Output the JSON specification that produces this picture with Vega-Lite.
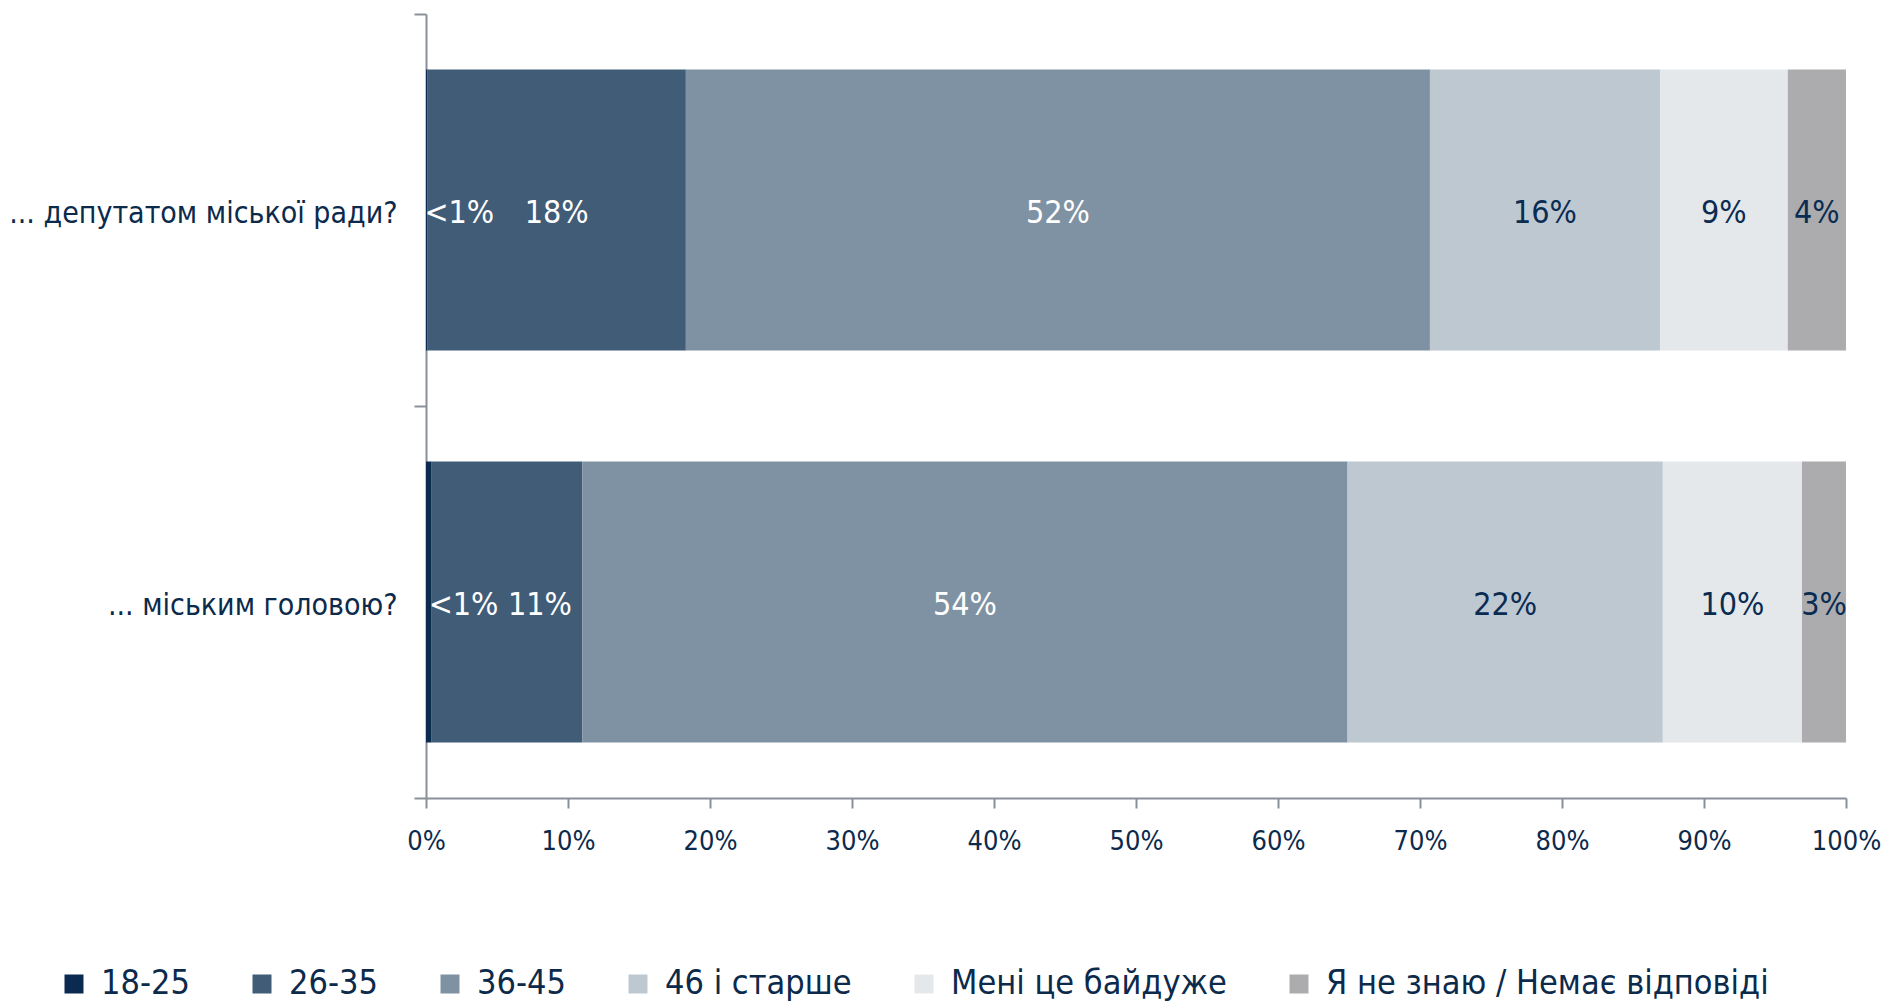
{
  "$schema": "https://vega.github.io/schema/vega-lite/v6.json",
  "width": 1420,
  "height": 784,
  "autosize": {"type": "none"},
  "padding": {"left": 426, "top": 14, "right": 42, "bottom": 204},
  "background": "white",
  "config": {
    "view": {"stroke": null},
    "font": "DejaVu Sans Condensed",
    "axis": {"domainColor": "#8a9099", "tickColor": "#8a9099", "domainWidth": 2, "tickWidth": 2, "labelColor": "#0c2a4b", "grid": false, "title": null, "labelFont": "DejaVu Sans Condensed"}
  },
  "data": {
    "values": [
      {"q": "... депутатом міської ради?", "cat": "18-25", "k": 1, "value": 0.001, "label": "<1%"},
      {"q": "... депутатом міської ради?", "cat": "26-35", "k": 2, "value": 0.182, "label": "18%"},
      {"q": "... депутатом міської ради?", "cat": "36-45", "k": 3, "value": 0.524, "label": "52%"},
      {"q": "... депутатом міської ради?", "cat": "46 і старше", "k": 4, "value": 0.162, "label": "16%"},
      {"q": "... депутатом міської ради?", "cat": "Мені це байдуже", "k": 5, "value": 0.090, "label": "9%"},
      {"q": "... депутатом міської ради?", "cat": "Я не знаю / Немає відповіді", "k": 6, "value": 0.041, "label": "4%"},
      {"q": "... міським головою?", "cat": "18-25", "k": 1, "value": 0.004, "label": "<1%"},
      {"q": "... міським головою?", "cat": "26-35", "k": 2, "value": 0.106, "label": "11%"},
      {"q": "... міським головою?", "cat": "36-45", "k": 3, "value": 0.539, "label": "54%"},
      {"q": "... міським головою?", "cat": "46 і старше", "k": 4, "value": 0.222, "label": "22%"},
      {"q": "... міським головою?", "cat": "Мені це байдуже", "k": 5, "value": 0.098, "label": "10%"},
      {"q": "... міським головою?", "cat": "Я не знаю / Немає відповіді", "k": 6, "value": 0.031, "label": "3%"}
    ]
  },
  "transform": [
    {"stack": "value", "groupby": ["q"], "sort": [{"field": "k", "order": "ascending"}], "as": ["x0", "x1"]},
    {"calculate": "(datum.x0 + datum.x1) / 2", "as": "mid"}
  ],
  "encoding": {
    "y": {
      "field": "q", "type": "nominal", "sort": ["... депутатом міської ради?", "... міським головою?"],
      "scale": {"paddingInner": 0, "paddingOuter": 0},
      "axis": {"tickBand": "extent", "tickSize": 12, "labelFontSize": 30, "labelPadding": 17, "labelLimit": 800, "labelOffset": 3}
    }
  },
  "layer": [
    {
      "mark": {"type": "bar", "height": {"band": 0.717}},
      "encoding": {
        "x": {"field": "x0", "type": "quantitative", "scale": {"domain": [0, 1]},
          "axis": {"values": [0, 0.1, 0.2, 0.3, 0.4, 0.5, 0.6, 0.7, 0.8, 0.9, 1], "format": ".0%", "labelFontSize": 27, "tickSize": 10, "labelPadding": 20, "labelFlush": false}},
        "x2": {"field": "x1"},
        "color": {
          "field": "cat", "type": "nominal",
          "scale": {
            "domain": ["18-25", "26-35", "36-45", "46 і старше", "Мені це байдуже", "Я не знаю / Немає відповіді"],
            "range": ["#0a2a4f", "#415c77", "#7f92a3", "#bec8d1", "#e4e8eb", "#acacae"]
          },
          "legend": {
            "title": null, "orient": "none", "legendX": -369, "legendY": 953, "direction": "horizontal",
            "symbolType": "square", "symbolSize": 361, "symbolStrokeWidth": 0, "symbolOpacity": 1,
            "labelFontSize": 34, "labelColor": "#0c2a4b", "labelFont": "DejaVu Sans Condensed",
            "columnPadding": 55, "labelOffset": 10, "labelLimit": 800
          }
        }
      }
    },
    {
      "transform": [{"filter": "(datum.cat == '26-35' || datum.cat == '36-45') && !(datum.cat == '26-35' && datum.q == '... міським головою?')"}],
      "mark": {"type": "text", "font": "DejaVu Sans Condensed", "fontSize": 32, "color": "#ffffff", "align": "center", "baseline": "middle", "dy": 3},
      "encoding": {"x": {"field": "mid", "type": "quantitative"}, "text": {"field": "label"}}
    },
    {
      "transform": [{"filter": "datum.cat == '26-35' && datum.q == '... міським головою?'"}],
      "mark": {"type": "text", "font": "DejaVu Sans Condensed", "fontSize": 32, "color": "#ffffff", "align": "center", "baseline": "middle", "dx": 33, "dy": 3},
      "encoding": {"x": {"field": "mid", "type": "quantitative"}, "text": {"field": "label"}}
    },
    {
      "transform": [{"filter": "datum.cat == '18-25'"}],
      "mark": {"type": "text", "font": "DejaVu Sans Condensed", "fontSize": 32, "color": "#ffffff", "align": "left", "baseline": "middle", "dx": -3, "dy": 3},
      "encoding": {"x": {"field": "x1", "type": "quantitative"}, "text": {"field": "label"}}
    },
    {
      "transform": [{"filter": "datum.k >= 4"}],
      "mark": {"type": "text", "font": "DejaVu Sans Condensed", "fontSize": 32, "color": "#0b2c52", "align": "center", "baseline": "middle", "dy": 3},
      "encoding": {"x": {"field": "mid", "type": "quantitative"}, "text": {"field": "label"}}
    }
  ]
}
